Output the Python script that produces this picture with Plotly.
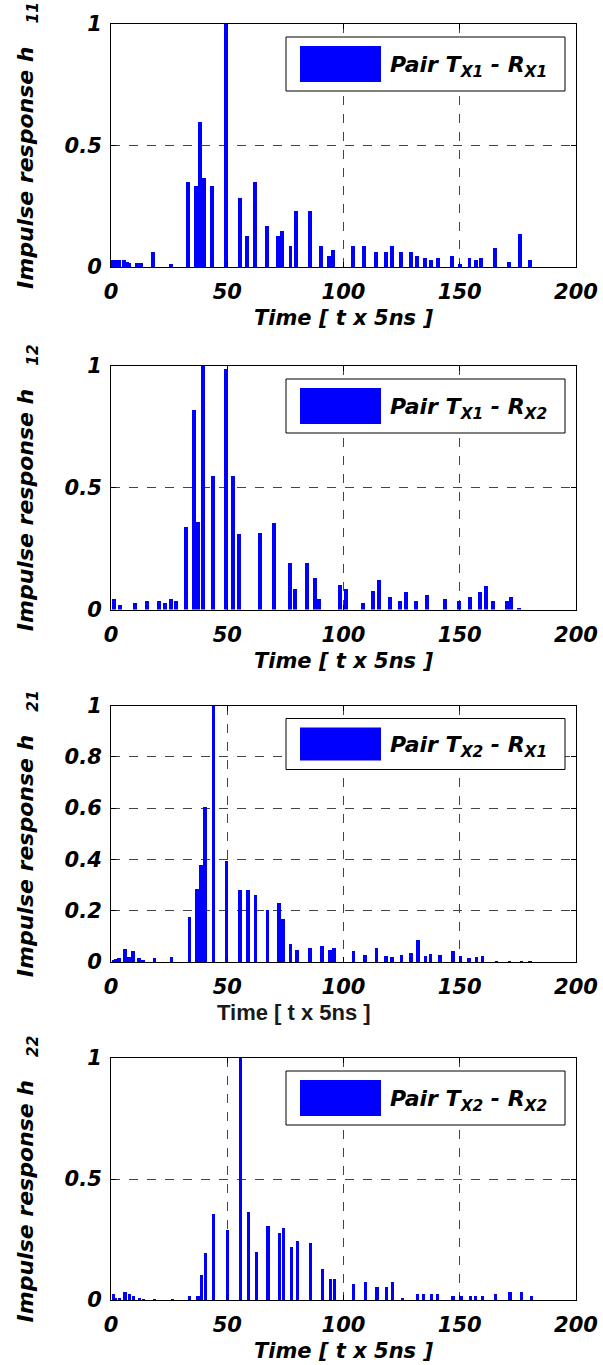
import plotly.graph_objects as go

# ---------------- data ----------------
t11 = [1.0, 2.1, 3.3, 5.6, 6.7, 7.9, 11.3, 13.1, 18.2, 25.9, 33.3, 36.6, 37.3, 38.4, 40.1, 43.5, 49.6,
       55.3, 58.5, 62.0, 67.0, 72.0, 73.6, 77.2, 79.6, 85.5, 90.5, 93.7, 95.6, 103.9, 108.9, 113.9,
       118.1, 120.7, 124.9, 129.0, 131.5, 134.9, 137.5, 140.8, 146.7, 150.1, 154.2, 156.8, 159.3,
       165.1, 171.0, 175.9, 180.2]
h11 = [0.03, 0.03, 0.03, 0.03, 0.022, 0.016, 0.016, 0.016, 0.06, 0.012, 0.35, 0.335, 0.335, 0.595,
       0.365, 0.335, 1.0, 0.284, 0.126, 0.35, 0.17, 0.126, 0.15, 0.085, 0.23, 0.23, 0.085, 0.044,
       0.069, 0.085, 0.085, 0.06, 0.06, 0.085, 0.06, 0.06, 0.044, 0.037, 0.03, 0.037, 0.044, 0.012,
       0.037, 0.03, 0.037, 0.077, 0.022, 0.134, 0.03]

t12 = [1.3, 3.8, 10.4, 15.6, 20.6, 23.1, 25.6, 28.1, 32.2, 35.7, 37.3, 39.7, 44.0, 49.6, 52.5, 55.1,
       64.2, 70.1, 76.8, 79.3, 84.1, 87.7, 89.3, 98.4, 101.0, 108.4, 112.7, 115.2, 120.2, 124.3,
       126.9, 131.2, 136.1, 143.6, 149.5, 154.5, 158.6, 161.2, 164.5, 170.4, 172.1, 175.5]
h12 = [0.042, 0.018, 0.027, 0.036, 0.036, 0.027, 0.042, 0.036, 0.34, 0.82, 0.36, 1.0, 0.547, 0.986,
       0.547, 0.31, 0.315, 0.356, 0.19, 0.085, 0.19, 0.13, 0.044, 0.1, 0.086, 0.027, 0.078, 0.123,
       0.052, 0.036, 0.07, 0.036, 0.059, 0.044, 0.036, 0.052, 0.07, 0.098, 0.036, 0.036, 0.052, 0.004]

t21 = [1.2, 2.0, 3.5, 6.1, 7.8, 9.4, 12.1, 13.8, 18.7, 26.1, 33.7, 37.0, 38.7, 40.4, 44.0, 49.6,
       55.5, 58.9, 62.1, 67.3, 72.2, 73.9, 77.3, 79.9, 85.6, 90.8, 94.2, 95.9, 104.2, 109.2, 114.2,
       118.2, 120.8, 124.9, 129.1, 132.0, 135.3, 137.4, 141.4, 147.0, 150.3, 154.0, 157.2, 159.7,
       165.7, 171.5, 176.5, 180.3]
h21 = [0.009, 0.012, 0.017, 0.052, 0.02, 0.045, 0.016, 0.009, 0.016, 0.022, 0.178, 0.288, 0.382,
       0.606, 1.0, 0.396, 0.282, 0.282, 0.262, 0.205, 0.232, 0.169, 0.071, 0.05, 0.057, 0.065, 0.047,
       0.057, 0.045, 0.03, 0.058, 0.025, 0.02, 0.03, 0.038, 0.087, 0.025, 0.035, 0.03, 0.045, 0.025,
       0.017, 0.02, 0.025, 0.003, 0.003, 0.003, 0.003]

t22 = [0.9, 2.0, 3.7, 6.0, 8.0, 9.6, 12.2, 13.8, 18.8, 26.3, 33.9, 37.4, 39.1, 40.6, 44.1, 50.0, 55.7,
       59.1, 62.4, 67.5, 72.5, 74.3, 77.6, 80.2, 85.9, 91.1, 94.4, 96.2, 104.3, 109.3, 114.4, 118.5,
       121.1, 125.3, 131.9, 134.5, 137.9, 140.5, 147.1, 150.6, 154.7, 156.9, 159.8, 165.5, 171.6,
       176.4, 180.8]
h22 = [0.023, 0.005, 0.008, 0.032, 0.023, 0.017, 0.008, 0.003, 0.003, 0.003, 0.017, 0.017, 0.103,
       0.193, 0.354, 0.29, 1.0, 0.363, 0.2, 0.306, 0.276, 0.297, 0.218, 0.243, 0.234, 0.13, 0.088,
       0.088, 0.065, 0.073, 0.055, 0.055, 0.073, 0.008, 0.023, 0.023, 0.023, 0.023, 0.017, 0.017,
       0.017, 0.017, 0.017, 0.023, 0.032, 0.032, 0.017]

pair_labels = ["Pair T<sub>X1</sub> - R<sub>X1</sub>", "Pair T<sub>X1</sub> - R<sub>X2</sub>",
               "Pair T<sub>X2</sub> - R<sub>X1</sub>", "Pair T<sub>X2</sub> - R<sub>X2</sub>"]
h_subs = ["11", "12", "21", "22"]
x_ticks = [0, 50, 100, 150, 200]
x_title = "Time [ t x 5ns ]"

# ---------------- layout helpers ----------------
W, H = 603, 1365
X0, X1 = 111, 576
panels_px = [(24, 267), (366, 609.5), (705.5, 962), (1058, 1300)]   # (top, bottom) in px
legend_h = [67, 67, 64, 67]
bar_w = [1.7, 1.7, 1.5, 1.35]

def px_x(p):
    return p / W

def px_y(p):
    return 1 - p / H

FONT = dict(family="DejaVu Sans", size=21, color="black", weight="bold", style="italic")

fig = go.Figure()
series = [(t11, h11), (t12, h12), (t21, h21), (t22, h22)]
shapes, annotations = [], []
for i, ((t, h), (top, bot)) in enumerate(zip(series, panels_px)):
    n = "" if i == 0 else str(i + 1)
    fig.add_trace(go.Bar(x=t, y=h, width=bar_w[i], marker=dict(color="#0000FF", line=dict(width=0)),
                         xaxis="x" + n, yaxis="y" + n, showlegend=False))
    common = dict(showgrid=True, gridcolor="#444", griddash="dash", gridwidth=1, showline=True,
                  linecolor="black", linewidth=1, mirror="ticks", ticks="inside", ticklen=5,
                  tickcolor="black", zeroline=False, tickfont=FONT, automargin=False)
    xa = dict(common, domain=[px_x(X0), px_x(X1)], range=[0, 200], tickvals=x_ticks,
              anchor="y" + n, ticklabelstandoff=6)
    if i != 2:
        xa["title"] = dict(text=x_title, font=dict(FONT, size=21), standoff=7)
    ya = dict(common, domain=[px_y(bot), px_y(top)], range=[0, 1], dtick=0.2 if i == 2 else 0.5,
              anchor="x" + n, ticklabelstandoff=4,
              title=dict(text="Impulse response h\u00a0\u00a0\u00a0<sub>" + h_subs[i] + "</sub>",
                         font=dict(FONT, size=22), standoff=24))
    fig.layout["xaxis" + n] = xa
    fig.layout["yaxis" + n] = ya

    # legend box drawn like the original MATLAB legend
    shapes.append(dict(type="rect", xref="paper", yref="paper", x0=px_x(286), x1=px_x(565),
                       y0=px_y(top + legend_h[i]), y1=px_y(top + 13),
                       line=dict(color="black", width=1), fillcolor="white", layer="above"))
    shapes.append(dict(type="rect", xref="paper", yref="paper", x0=px_x(300), x1=px_x(381),
                       y0=px_y(top + legend_h[i] - 9), y1=px_y(top + 22),
                       line=dict(color="#0000FF", width=0), fillcolor="#0000FF", layer="above"))
    annotations.append(dict(xref="paper", yref="paper", x=px_x(388), y=px_y(top + 13 + legend_h[i] / 2 - 4),
                            xanchor="left", yanchor="middle", showarrow=False,
                            text=pair_labels[i], font=dict(FONT, size=22)))

annotations.append(dict(xref="paper", yref="paper", x=px_x(294), y=px_y(1012), xanchor="center",
                        yanchor="middle", showarrow=False, text=x_title,
                        font=dict(family="Liberation Sans", size=22, color="#1a1a1a",
                                  weight="bold", style="normal")))

fig.update_layout(width=W, height=H, margin=dict(l=0, r=0, t=0, b=0, autoexpand=False),
                  plot_bgcolor="white", paper_bgcolor="white", shapes=shapes,
                  annotations=annotations, bargap=0, font=FONT)
fig.write_html("out.html", config={"displayModeBar": False},
               post_script="document.body.style.margin='0px';")
